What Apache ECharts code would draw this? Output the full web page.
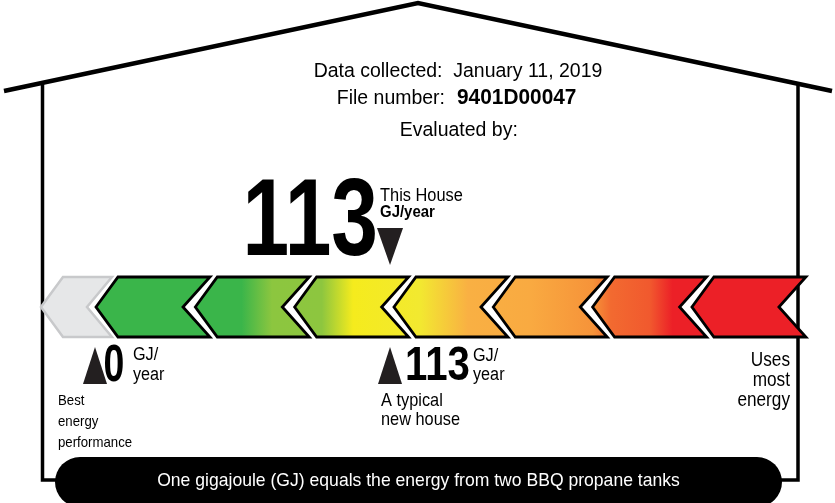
<!DOCTYPE html>
<html>
<head>
<meta charset="utf-8">
<script src="https://cdn.jsdelivr.net/npm/echarts@6/dist/echarts.min.js"></script>
<style>
html, body { margin: 0; padding: 0; background: #fff; }
#chart { width: 835px; height: 503px; }
</style>
</head>
<body>
<div id="chart"></div>
<script>
// label data
var dataCollected = 'January 11, 2019';
var fileNumber = '9401D00047';
var evaluatedBy = '';
var unitText = 'GJ/year';

// chevron scale: first one is the grey lead-in, then 7 rating steps
var chevronStart = [-0.554, 0, 1, 2, 3, 4, 5, 6];
var chevronKind = ['lead', 'step', 'step', 'step', 'step', 'step', 'step', 'step'];

// markers on the GJ scale
var markerNames = ['Best energy performance', 'A typical new house', 'This House'];
var markerValues = [0, 113, 113];
var markerCaptions = [['Best', 'energy', 'performance'], ['A typical', 'new house'], ['This House']];

var FONT = '"Liberation Sans", Arial, Helvetica, sans-serif';
var BAND_Y = 307, BAND_H = 60;

var myChart = echarts.init(document.getElementById('chart'));

var bandGradient = {
    type: 'linear', x: 96, y: 0, x2: 806, y2: 0, global: true,
    colorStops: [
        {offset: 0, color: '#3ab54a'},
        {offset: 0.205, color: '#3ab54a'},
        {offset: 0.248, color: '#8cc63f'},
        {offset: 0.318, color: '#8dc63f'},
        {offset: 0.362, color: '#f5eb1d'},
        {offset: 0.456, color: '#f2e930'},
        {offset: 0.524, color: '#f9b043'},
        {offset: 0.611, color: '#f9aa41'},
        {offset: 0.7, color: '#f69339'},
        {offset: 0.725, color: '#f26a30'},
        {offset: 0.78, color: '#f1592e'},
        {offset: 0.812, color: '#ec2027'},
        {offset: 1, color: '#ec2027'}
    ]
};

function txt(x, y, text, size, opts) {
    opts = opts || {};
    var align = opts.align || 'left';
    return {
        type: 'text', x: x, y: y,
        scaleX: opts.scaleX || 1,
        style: {
            text: text,
            font: (opts.bold ? 'bold ' : '') + size + 'px ' + FONT,
            fill: opts.fill || '#000',
            align: align, textAlign: align,
            verticalAlign: 'middle', textVerticalAlign: 'middle'
        }
    };
}

function renderChevron(params, api) {
    var lead = chevronKind[params.dataIndex] === 'lead';
    var x0 = api.coord([api.value(0), BAND_Y])[0];
    var w = lead ? 71 : 114;
    var notch = lead ? 25 : 27;
    var top = BAND_Y - BAND_H / 2, bot = BAND_Y + BAND_H / 2;
    var pts = [[x0, BAND_Y], [x0 + 22, top], [x0 + w, top], [x0 + w - notch, BAND_Y],
               [x0 + w, bot], [x0 + 22, bot]];
    return {
        type: 'polygon',
        shape: {points: pts},
        style: lead
            ? {fill: '#e6e7e8', stroke: '#c8c9cb', lineWidth: 2.5, lineJoin: 'miter'}
            : {fill: bandGradient, stroke: '#000', lineWidth: 2.8, lineJoin: 'miter'}
    };
}

// layout of each marker's triangle and labels (offsets from marker x)
var markerLayout = [
    {down: false, triTop: 347, numDx: 8.5, numY: 366.5, numSize: 52, numScale: 0.72,
     unitDx: 38, unitY: [355, 375], unitSize: 18, unitScale: 0.9,
     capDx: -37, capY: [401, 422, 443], capSize: 15, capScale: 0.88},
    {down: false, triTop: 347, numDx: 15, numY: 366, numSize: 49, numScale: 0.82,
     unitDx: 83, unitY: [356, 375], unitSize: 18, unitScale: 0.9,
     capDx: -9, capY: [400.5, 420], capSize: 19, capScale: 0.86},
    {down: true, triTop: 228, numDx: -12, numY: 225, numSize: 109, numScale: 0.77,
     unitDx: -10, unitY: [212], unitSize: 17, unitScale: 0.88,
     capDx: -10, capY: [196], capSize: 18, capScale: 0.91}
];

function renderMarker(params, api) {
    var i = params.dataIndex;
    var L = markerLayout[i];
    var v = api.value(0);
    var x = api.coord([v, 0])[0];
    var kids = [];
    var tri = L.down
        ? [[x - 13, L.triTop], [x + 13, L.triTop], [x, L.triTop + 37]]
        : [[x, L.triTop], [x + 12, L.triTop + 37], [x - 12, L.triTop + 37]];
    kids.push({type: 'polygon', shape: {points: tri}, style: {fill: '#231f20'}});
    kids.push(txt(x + L.numDx, L.numY, String(v), L.numSize,
        {bold: true, scaleX: L.numScale, align: L.down ? 'right' : 'left'}));
    if (L.down) {
        kids.push(txt(x + L.unitDx, L.unitY[0], unitText, L.unitSize, {bold: true, scaleX: L.unitScale}));
    } else {
        kids.push(txt(x + L.unitDx, L.unitY[0], 'GJ/', L.unitSize, {scaleX: L.unitScale}));
        kids.push(txt(x + L.unitDx, L.unitY[1], 'year', L.unitSize, {scaleX: L.unitScale}));
    }
    markerCaptions[i].forEach(function (line, k) {
        kids.push(txt(x + L.capDx, L.capY[k], line, L.capSize, {scaleX: L.capScale}));
    });
    return {type: 'group', children: kids};
}

var option = {
    animation: false,
    grid: {left: 95, right: 9, top: 0, bottom: 0},
    xAxis: [
        {type: 'value', min: 0, max: 280, show: false},
        {type: 'value', min: -0.01, max: 7.35, show: false}
    ],
    yAxis: {type: 'value', min: 0, max: 503, inverse: true, show: false},
    series: [
        {
            type: 'custom', name: 'scale', xAxisIndex: 1,
            renderItem: renderChevron,
            data: chevronStart.map(function (s) { return [s, BAND_Y]; }),
            silent: true
        },
        {
            type: 'custom', name: 'markers', xAxisIndex: 0,
            renderItem: renderMarker,
            data: markerValues.map(function (v, i) { return {name: markerNames[i], value: [v, 0]}; }),
            silent: true
        }
    ],
    graphic: [
        // house outline
        {type: 'polyline', shape: {points: [[4, 91], [418, 3], [832, 91]]},
         style: {stroke: '#000', lineWidth: 4.5, fill: null, lineJoin: 'miter'}},
        {type: 'polyline', shape: {points: [[42.5, 84], [42.5, 480], [60, 480]]},
         style: {stroke: '#000', lineWidth: 3.5, fill: null}},
        {type: 'polyline', shape: {points: [[798, 84], [798, 480], [778, 480]]},
         style: {stroke: '#000', lineWidth: 3.5, fill: null}},
        // header text
        txt(458, 71, 'Data collected:  ' + dataCollected, 20.5, {align: 'center', scaleX: 0.95}),
        txt(445, 98.5, 'File number:', 20.5, {align: 'right', scaleX: 0.95}),
        txt(457, 98, fileNumber, 21.5, {align: 'left', bold: true, scaleX: 0.97}),
        txt(461.5, 130, 'Evaluated by: ' + evaluatedBy, 20.5, {align: 'center', scaleX: 0.95}),
        // right end label
        txt(790, 360, 'Uses', 20, {align: 'right', scaleX: 0.86}),
        txt(790, 380, 'most', 20, {align: 'right', scaleX: 0.86}),
        txt(790, 400, 'energy', 20, {align: 'right', scaleX: 0.86}),
        // footer bar
        {type: 'rect', shape: {x: 55, y: 457, width: 727, height: 50, r: 25}, style: {fill: '#000'}},
        txt(418.5, 481, 'One gigajoule (GJ) equals the energy from two BBQ propane tanks', 19,
            {align: 'center', fill: '#fff', scaleX: 0.925})
    ]
};

myChart.setOption(option);

window.onresize = function () {
    myChart.resize();
};
</script>
</body>
</html>
